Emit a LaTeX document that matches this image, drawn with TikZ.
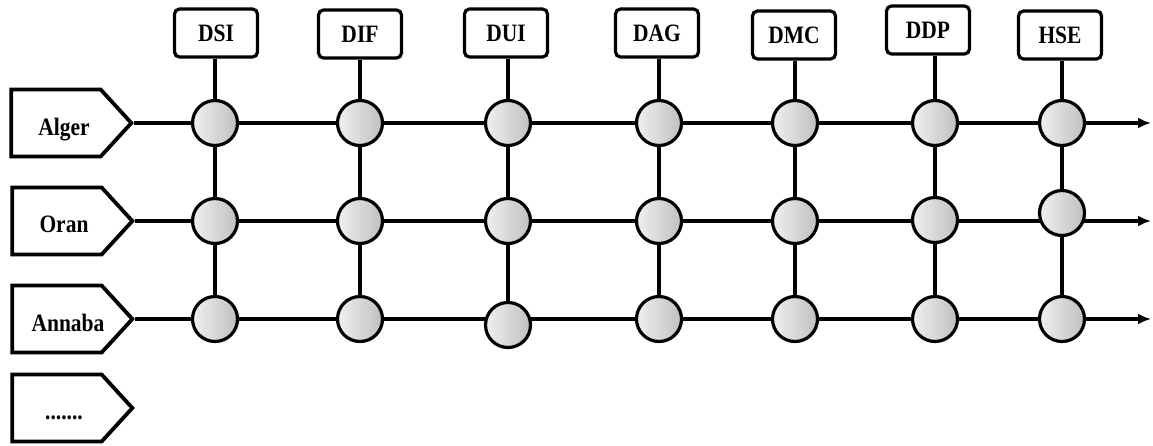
\documentclass[tikz,border=0pt]{standalone}
\usepackage{fontspec}
\setmainfont{Liberation Serif}[FakeStretch=0.86]
\usetikzlibrary{arrows.meta,shapes.symbols,backgrounds}
\begin{document}
\begin{tikzpicture}[x=1pt,y=-1pt,
  conn/.style={line width=3.2pt},
  arr/.style={-{Latex[length=13pt,width=11pt]}},
  hub/.style={circle, draw, line width=3.2pt, minimum size=45pt, inner sep=0pt,
    left color=gray!12, right color=gray!50},
  dept/.style={draw, rounded corners=5pt, line width=3.2pt, fill=white,
    minimum width=83pt, minimum height=48pt, inner sep=0pt,
    font=\bfseries\fontsize{25}{28}\selectfont},
  city/.style={draw, signal, signal to=east, signal pointer angle=95,
    line width=3.8pt, fill=white, minimum width=120pt, minimum height=67pt, inner sep=0pt},
  citylabel/.style={anchor=base, inner sep=0pt, font=\bfseries\fontsize{25}{28}\selectfont},
]
\useasboundingbox (0,0) rectangle (1153,445);
% cities
\node[city] (alger) at (56,123) {};
\node[citylabel] (algerL) at (64,135) {Alger};
\node[city] (oran) at (57,221) {};
\node[citylabel] (oranL) at (64,232) {Oran};
\node[city] (annaba) at (57,319) {};
\node[citylabel] (annabaL) at (68,331) {Annaba};
\node[city] (more) at (57,408) {};
\node[citylabel] (moreL) at (64,419) {.......};
% ends of the rows
\coordinate (end1) at (1151,123);
\coordinate (end2) at (1151,220);
\coordinate (end3) at (1151,318);
% departments and hubs
\foreach \n/\x/\bx/\by/\ya/\yb/\yc in {DSI/215/216/33/123/221/319, DIF/360/360/34/123/221/319, DUI/508/506/33/123/221/325, DAG/659/657/33/123/221/319, DMC/795/794/35/123/221/319, DDP/935/928/30/123/220/319, HSE/1062/1060/35/123/213/319}{
  \node[dept] (\n) at (\bx,\by) {\raisebox{-2pt}{\n}};
  \node[hub] (\n-1) at (\x,\ya) {};
  \node[hub] (\n-2) at (\x,\yb) {};
  \node[hub] (\n-3) at (\x,\yc) {};
  \begin{scope}[on background layer]
    \draw[conn] (\n.south -| \n-1) -- (\n-1.center) -- (\n-2.center) -- (\n-3.center);
  \end{scope}
}
\begin{scope}[on background layer]
  \draw[conn,arr] (alger.east) -- (alger.east -| end1);
  \draw[conn,arr] (oran.east) -- (oran.east -| end2);
  \draw[conn,arr] (annaba.east) -- (annaba.east -| end3);
\end{scope}
\end{tikzpicture}
\end{document}
